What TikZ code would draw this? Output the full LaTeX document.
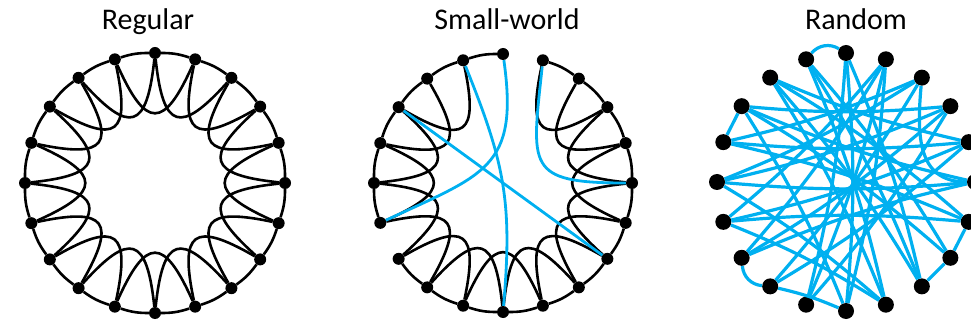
\documentclass[tikz,border=0pt]{standalone}
\usepackage{fontspec}
\setmainfont{Carlito}
\usetikzlibrary{calc}
\definecolor{swblue}{HTML}{00B0F0}

\begin{document}
\begin{tikzpicture}[
  x=1pt, y=1pt,
  dot/.style={circle, fill=black, inner sep=0pt, minimum size=12pt},
  bigdot/.style={circle, fill=black, inner sep=0pt, minimum size=16pt},
  ring/.style={line width=2.6pt, black, bend left=9},
  hop/.style={line width=2.6pt, black, looseness=2.4},
  rewired/.style={line width=2.8pt, swblue},
  rnd/.style={line width=3.2pt, swblue},
  title/.style={font=\fontsize{30}{32}\selectfont, anchor=base},
]
\useasboundingbox (0,0) rectangle (971,324);

% titles
\node[title] (tReg) at (148,294) {Regular};
\node[title] (tSw) at (507,294) {Small-world};
\node[title] (tRnd) at (856,294) {Random};

% nodes of the three rings
\foreach \k [evaluate=\k as \a using {90-18*\k}] in {0,...,19}{
  \node[dot] (r\k) at ([shift={(155,141)}]\a:130) {};
  \node[dot] (s\k) at ([shift={(503,141)}]\a:129) {};
  \node[bigdot] (n\k) at ([shift={(846,142)}]\a:129) {};
}

% regular lattice
\foreach \k [evaluate=\k as \j using {int(mod(\k+1,20))},
             evaluate=\k as \m using {int(mod(\k+2,20))},
             evaluate=\k as \o using {270-18*\k+6},
             evaluate=\k as \i using {270-18*(\k+2)-6}] in {0,...,19}{
  \draw[ring] (r\k) to (r\j);
  \draw[hop] (r\k) to[out=\o, in=\i] (r\m);
}

% small-world: lattice minus rewired edges
\foreach \k [evaluate=\k as \j using {int(mod(\k+1,20))}] in {1,...,12,14,15,16,17,18,19}
  \draw[ring] (s\k) to (s\j);
\foreach \k [evaluate=\k as \m using {int(mod(\k+2,20))},
             evaluate=\k as \o using {270-18*\k+6},
             evaluate=\k as \i using {270-18*(\k+2)-6}] in {1,...,17}
  \draw[hop] (s\k) to[out=\o, in=\i] (s\m);
\draw[rewired] (s0) to[out=-82, in=25, looseness=1.4] (s14);
\draw[rewired] (s19) to[out=-68, in=85, looseness=1.1] (s10);
\draw[rewired] (s1) to[out=-96, in=180, looseness=1.8] (s5);
\draw[rewired] (s17) to (s7);

% random graph
\draw[rnd] (n19) to[bend left=40] (n0);
\draw[rnd] (n13) to[bend right=40] (n12);
\draw[rnd] (n2) to[out=-95, in=180, looseness=1.2] (n5);
\draw[rnd] (n16) -- (n17);
\draw[rnd] (n7) -- (n8);
\draw[rnd] (n6) -- (n7);
\foreach \p/\q in {0/10, 0/11, 0/8, 1/11, 1/13, 1/14, 1/10, 2/12, 2/15, 2/16,
                   3/15, 3/17, 3/13, 3/11, 4/16, 4/14, 4/12, 4/18, 5/15, 5/17}
  \draw[rnd] (n\p) to[bend left=5] (n\q);
\foreach \p/\q in {5/13, 6/16, 6/18, 6/14, 7/19, 7/17, 8/18, 8/19, 9/19, 9/18,
                   9/15, 9/14, 10/17, 10/12}
  \draw[rnd] (n\p) to[bend right=5] (n\q);
\end{tikzpicture}
\end{document}
